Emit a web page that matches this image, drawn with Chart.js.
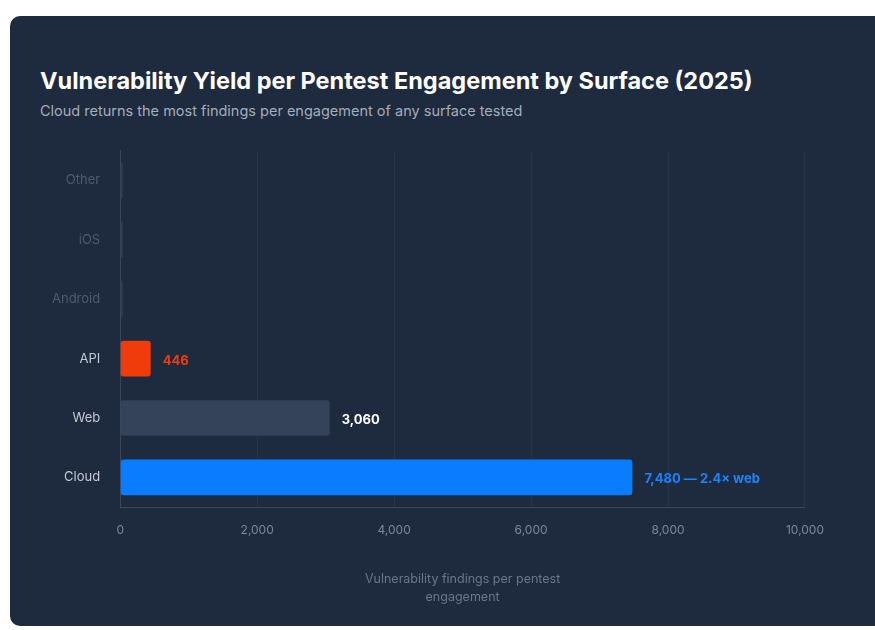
<!DOCTYPE html>
<html>
<head>
<meta charset="utf-8">
<script src="https://cdn.jsdelivr.net/npm/chart.js@4"></script>
<style>
  body { margin: 0; background: #ffffff; font-family: "Inter", "Noto Sans", sans-serif; }
  .card { position: absolute; left: 10px; top: 16px; width: 880px; height: 610px; background: #1e2a3d; border-radius: 10px; }
  h1 { position: absolute; left: 30px; top: 50px; margin: 0; color: #ffffff; font-size: 23.5px; font-weight: 700; }
  p { position: absolute; left: 30px; top: 86px; margin: 0; color: #a3adbb; font-size: 14.5px; }
  .wrap { position: absolute; left: 30px; top: 115px; width: 800px; height: 480px; }
</style>
</head>
<body>
<div class="card">
  <h1>Vulnerability Yield per Pentest Engagement by Surface (2025)</h1>
  <p>Cloud returns the most findings per engagement of any surface tested</p>
  <div class="wrap"><canvas id="chart"></canvas></div>
</div>
<script>
const categories = ["Other", "iOS", "Android", "API", "Web", "Cloud"]
const findings = [40, 40, 40, 446, 3060, 7480]
const valueLabels = ["", "", "", "446", "3,060", "7,480 \u2014 2.4\u00d7 web"]
const barColors = ["#2e3b4f", "#2e3b4f", "#2e3b4f", "#f03c0a", "#34435a", "#0a7cff"]
const labelColors = ["#5a6678", "#5a6678", "#5a6678", "#f03c0a", "#ffffff", "#1a84ff"]
const tickColors = ["#4f5b6d", "#4f5b6d", "#4f5b6d", "#c3cad4", "#c3cad4", "#c3cad4"]

const valueLabelPlugin = {
    id: "valueLabels",
    afterDatasetsDraw(chart) {
        const { ctx } = chart
        const meta = chart.getDatasetMeta(0)
        ctx.save()
        ctx.font = "bold 13px Inter, sans-serif"
        ctx.textBaseline = "middle"
        meta.data.forEach((bar, i) => {
            if (!valueLabels[i]) return
            ctx.fillStyle = labelColors[i]
            ctx.fillText(valueLabels[i], bar.x + 12, bar.y + 2)
        })
        ctx.restore()
    },
}

new Chart(document.getElementById("chart"), {
    type: "bar",
    data: {
        labels: categories,
        datasets: [{
            data: findings,
            backgroundColor: barColors,
            borderRadius: 3,
            borderSkipped: false,
            barPercentage: 0.6,
            categoryPercentage: 1,
        }],
    },
    options: {
        indexAxis: "y",
        responsive: true,
        maintainAspectRatio: false,
        animation: false,
        layout: { padding: { right: 15 } },
        plugins: { legend: { display: false }, tooltip: { enabled: false } },
        scales: {
            x: {
                min: 0,
                max: 10000,
                ticks: {
                    stepSize: 2000,
                    color: "#7d8797",
                    font: { size: 12, family: "Inter" },
                    padding: 16,
                    callback: (v) => v.toLocaleString("en-US"),
                },
                grid: { color: "#27344a", drawTicks: false },
                border: { color: "#3a475b" },
                title: {
                    display: true,
                    text: ["Vulnerability findings per pentest", "engagement"],
                    color: "#6c7686",
                    font: { size: 12.5, family: "Inter", lineHeight: 1.5 },
                    padding: { top: 16 },
                },
            },
            y: {
                ticks: {
                    color: (c) => tickColors[c.index],
                    font: { size: 13, family: "Inter" },
                    padding: 12,
                },
                grid: { display: false },
                border: { color: "#3a475b" },
            },
        },
    },
    plugins: [valueLabelPlugin],
})
</script>
</body>
</html>
